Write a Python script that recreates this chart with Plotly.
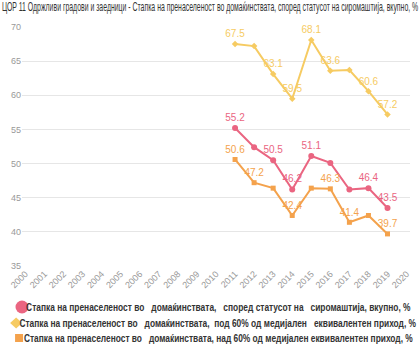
import plotly.graph_objects as go

years = list(range(2011, 2020))
all_years = list(range(2000, 2021))
total = [55.2, 52.4, 50.5, 46.2, 51.1, 50.1, 46.2, 46.4, 43.5]
below60 = [67.5, 67.2, 63.1, 59.5, 68.1, 63.6, 63.7, 60.6, 57.2]
above60 = [50.6, 47.2, 46.4, 42.4, 46.4, 46.3, 41.4, 42.4, 39.7]
shown_total = [2011, 2013, 2014, 2015, 2018, 2019]
shown_below = [2011, 2013, 2014, 2015, 2016, 2018, 2019]
shown_above = [2011, 2012, 2014, 2016, 2017, 2019]

names = [
    "Стапка на пренаселеност во\u00a0\u00a0 домаќинствата,\u00a0\u00a0 според статусот на\u00a0\u00a0 сиромаштија, вкупно, %",
    "Стапка на пренаселеност во\u00a0\u00a0 домаќинствата,\u00a0 под 60% од медијален\u00a0\u00a0 еквивалентен приход, %",
    "Стапка на пренаселеност во\u00a0\u00a0 домаќинствата, над 60% од медијален еквивалентен приход, %",
]
title = "ЦОР 11 Одржливи градови и заедници - Стапка на пренаселеност во домаќинствата, според статусот на сиромаштија, вкупно, %"

colors = ["#ea6581", "#f6cb62", "#f4a24c"]
symbols = ["circle", "diamond", "square"]
msizes = [6, 5, 5]
series = [total, below60, above60]
shown = [shown_total, shown_below, shown_above]

W, H = 420, 350
L, R, T, B = 15, 9, 27, 84
pw, ph = W - L - R, H - T - B


def px2paper(px, py):
    return (px - L) / pw, (H - B - py) / ph


fig = go.Figure()
for vals, sh, c, s, ms in zip(series, shown, colors, symbols, msizes):
    fig.add_trace(go.Scatter(
        x=years, y=vals, mode="lines+markers+text",
        text=[f"{v:.1f}" if yr in sh else "" for yr, v in zip(years, vals)],
        textposition="top center",
        textfont=dict(color=c, size=10, family="Liberation Sans, Arial"),
        line=dict(color=c, width=2),
        marker=dict(color=c, symbol=s, size=ms),
        showlegend=False, cliponaxis=False,
    ))

# legend (swatches + texts)
shapes = []
annotations = []
swatch_pos = [(15, 307), (9, 323), (12, 338)]
text_pos = [(216, 307), (215.5, 323), (216, 338)]
for i, (c, s) in enumerate(zip(colors, symbols)):
    ax, ay = px2paper(*swatch_pos[i])
    if s == "circle":
        shapes.append(dict(type="circle", xref="paper", yref="paper", xsizemode="pixel", ysizemode="pixel",
                           xanchor=ax, yanchor=ay, x0=-6.5, x1=6.5, y0=-6.5, y1=6.5,
                           fillcolor=c, line=dict(width=0)))
    elif s == "diamond":
        shapes.append(dict(type="path", xref="paper", yref="paper", xsizemode="pixel", ysizemode="pixel",
                           xanchor=ax, yanchor=ay, path="M -6 0 L 0 5.5 L 6 0 L 0 -5.5 Z",
                           fillcolor=c, line=dict(width=0)))
    else:
        shapes.append(dict(type="rect", xref="paper", yref="paper", xsizemode="pixel", ysizemode="pixel",
                           xanchor=ax, yanchor=ay, x0=-4, x1=4, y0=-4, y1=4,
                           fillcolor=c, line=dict(width=0)))
    tx, ty = px2paper(*text_pos[i])
    annotations.append(dict(text=names[i], xref="paper", yref="paper", x=tx, y=ty,
                            xanchor="center", yanchor="middle", showarrow=False,
                            font=dict(size=10, color="#333", family="Liberation Sans, Arial", weight="bold")))

fig.update_layout(
    width=W, height=H,
    margin=dict(l=L, r=R, t=T, b=B),
    paper_bgcolor="white", plot_bgcolor="white",
    title=dict(text=title, x=0.5, xanchor="center", y=0.992, yanchor="top",
               font=dict(size=12, color="#333", family="Liberation Sans, Arial")),
    xaxis=dict(range=[1999.82, 2020.18], tickmode="array", tickvals=all_years,
               ticktext=[str(y) for y in all_years], tickangle=-45,
               showgrid=False, zeroline=False, showline=False,
               tickfont=dict(size=9, color="#999", family="Liberation Sans, Arial")),
    yaxis=dict(range=[35, 70], dtick=5, showgrid=True, gridcolor="#e6e6e6",
               zeroline=False, showline=False, ticks="",
               tickfont=dict(size=9, color="#999", family="Liberation Sans, Arial")),
    showlegend=False,
    shapes=shapes,
    annotations=annotations,
)

post_js = """
var gd = document.getElementById('{plot_id}');
function squeezeEl(el, target) {
  if (!el || el.getAttribute('data-sq')) return;
  var bb = el.getBBox();
  if (!bb.width) return;
  var k = target / bb.width;
  var cx = bb.x + bb.width / 2;
  var prev = el.getAttribute('transform') || '';
  el.setAttribute('transform', prev + ' translate(' + cx + ',0) scale(' + k + ',1) translate(' + (-cx) + ',0)');
  el.setAttribute('data-sq', '1');
}
function squeeze() {
  squeezeEl(gd.querySelector('.gtitle'), 417);
  var lens = [385, 397, 389];
  var a = gd.querySelectorAll('.annotation-text');
  for (var i = 0; i < a.length && i < lens.length; i++) squeezeEl(a[i], lens[i]);
}
squeeze();
if (gd.on) { gd.on('plotly_afterplot', squeeze); }
"""
fig.write_html("out.html", post_script=post_js)
